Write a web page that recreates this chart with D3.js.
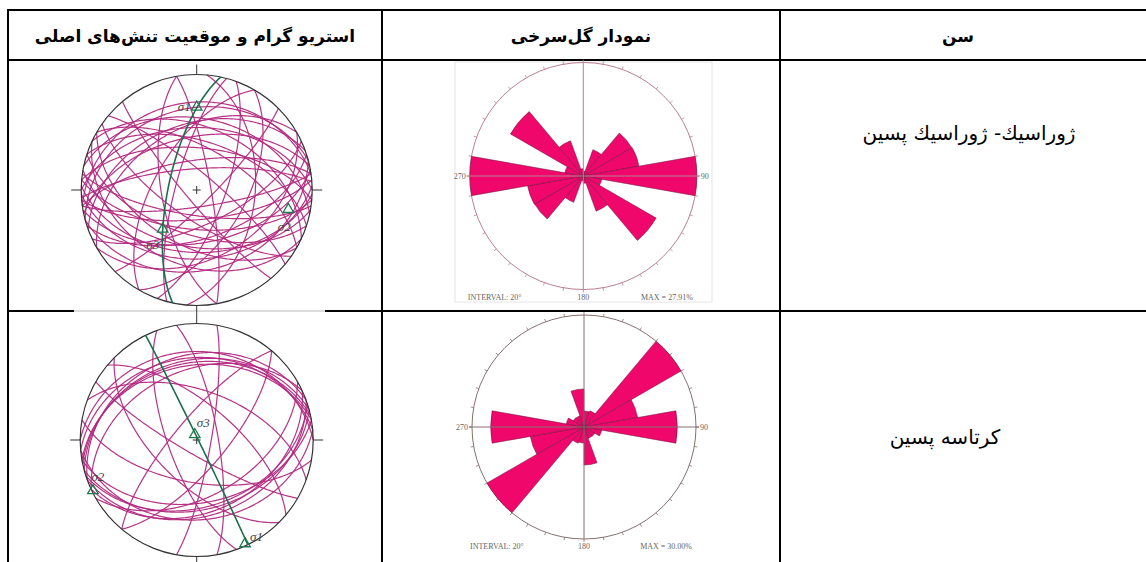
<!DOCTYPE html>
<html><head><meta charset="utf-8">
<script src="https://cdn.jsdelivr.net/npm/d3@7/dist/d3.min.js"></script>
<style>body{margin:0;background:#fff}svg{display:block}</style>
</head><body>
<svg id="c" width="1146" height="562"></svg>
<script>
// ---------------- data ----------------
const headers = ["استریو گرام و موقعیت تنش‌های اصلی", "نمودار گل‌سرخی", "سن"];
const ages = ["ژوراسيك- ژوراسيك پسين", "کرتاسه پسین"];

const roseBinStarts = [0, 20, 40, 60, 80, 100, 120, 140, 160];   // degrees, interval 20
const rose1Pct = [1.2, 6.9, 13.8, 13.9, 27.91, 4.6, 20.7, 9.2, 1.8];
const rose2Pct = [4.3, 4.6, 30.0, 14.6, 25.0, 4.8, 3.3, 3.2, 10.2];
const roseCompass = ["270", "90", "180"];
const roseInterval = "INTERVAL: 20°";
const roseMaxLabels = ["MAX = 27.91%", "MAX = 30.00%"];

// great circles (right-hand-rule strike, dip)
const stereo1Strikes = [82, 85, 95, 72, 100, 88, 75, 108, 92, 65, 115, 80, 98,
  262, 275, 258, 270, 282, 255, 288, 266, 250, 262,
  300, 310, 125, 120, 140, 295,
  20, 195, 30, 210, 45, 60, 240,
  350, 170, 5];
const stereo1Dips = [78, 69, 62, 55, 49, 40, 31, 58, 45, 65, 35, 52, 72,
  69, 60, 52, 45, 38, 30, 55, 75, 42, 25,
  60, 78, 70, 50, 82, 45,
  70, 75, 55, 60, 80, 40, 45,
  80, 65, 48];
const stereo2Strikes = [255, 250, 260, 265, 245, 270, 258,
  75, 70, 80, 65, 85, 60, 72,
  350, 10, 160, 135, 310, 40, 220, 100, 290, 120];
const stereo2Dips = [32, 28, 36, 30, 40, 25, 34,
  40, 35, 45, 38, 32, 50, 42,
  75, 80, 70, 60, 65, 70, 75, 60, 55, 80];

const sigmaNames = ["σ1", "σ2", "σ3"];
const stereo1SigmaTrend = [0, 102, 221], stereo1SigmaPlunge = [29, 20, 53];
const stereo2SigmaTrend = [155, 244, 341], stereo2SigmaPlunge = [2, 1, 86];

// ---------------- drawing ----------------
const svg = d3.select("#c");
const rad = d => d * Math.PI / 180;
const persianFont = "'DejaVu Sans', sans-serif";
const smallSerif = "'Liberation Serif', 'DejaVu Serif', serif";

// table
const T = svg.append("g").attr("stroke", "#000").attr("stroke-width", 2);
[[8, 10, 1146, 10], [8, 60, 1146, 60], [8, 311, 74, 311], [325, 311, 1146, 311],
 [8, 9, 8, 562], [382, 9, 382, 562], [780, 9, 780, 562]]
  .forEach(l => T.append("line").attr("x1", l[0]).attr("y1", l[1]).attr("x2", l[2]).attr("y2", l[3]));
svg.append("line").attr("x1", 74).attr("x2", 325).attr("y1", 311).attr("y2", 311).attr("stroke", "#bbb").attr("stroke-width", 1);

const headerX = [195, 581, 958];
headers.forEach((h, i) => svg.append("text").attr("x", headerX[i]).attr("y", 42)
  .attr("text-anchor", "middle").attr("direction", "rtl").attr("font-family", persianFont)
  .attr("font-size", 17).attr("font-weight", "bold").text(h));
const ageX = [969, 945], ageY = [140, 444];
ages.forEach((a, i) => svg.append("text").attr("x", ageX[i]).attr("y", ageY[i])
  .attr("text-anchor", "middle").attr("direction", "rtl").attr("font-family", persianFont)
  .attr("font-size", 20).text(a));

// ---- rose diagrams ----
function rose(cx, cy, R, pct, maxLabel, circleColor) {
  const g = svg.append("g").attr("transform", `translate(${cx},${cy})`);
  const r = d3.scaleLinear().domain([0, d3.max(pct)]).range([0, R]);
  g.append("circle").attr("r", R).attr("fill", "none").attr("stroke", circleColor).attr("stroke-width", 1);
  const ticks = d3.range(0, 360, 10);
  g.selectAll("line.tk").data(ticks).join("line").attr("class", "tk")
    .attr("x1", d => R * Math.sin(rad(d))).attr("y1", d => -R * Math.cos(rad(d)))
    .attr("x2", d => (R + 3) * Math.sin(rad(d))).attr("y2", d => -(R + 3) * Math.cos(rad(d)))
    .attr("stroke", circleColor).attr("stroke-width", 0.8);
  const petals = [];
  roseBinStarts.forEach((b, i) => { petals.push({ a: b, v: pct[i] }); petals.push({ a: b + 180, v: pct[i] }); });
  const arc = d3.arc().innerRadius(0);
  g.selectAll("path.p").data(petals).join("path").attr("class", "p")
    .attr("d", d => arc({ outerRadius: r(d.v), startAngle: rad(d.a), endAngle: rad(d.a + 20) }))
    .attr("fill", "#f0076c").attr("stroke", "#6a1038").attr("stroke-width", 0.5);
  g.append("line").attr("x1", 0).attr("x2", 0).attr("y1", -R).attr("y2", R).attr("stroke", circleColor).attr("stroke-width", 1);
  g.append("line").attr("x1", -R - 3).attr("x2", R + 3).attr("y1", 0).attr("y2", 0).attr("stroke", circleColor).attr("stroke-width", 1);
  const tx = g.append("g").attr("font-family", smallSerif).attr("font-size", 8).attr("fill", "#666");
  tx.append("text").attr("x", -R - 4).attr("y", 3).attr("text-anchor", "end").text(roseCompass[0]);
  tx.append("text").attr("x", R + 4).attr("y", 3).text(roseCompass[1]);
  tx.append("text").attr("x", 0).attr("y", R + 10).attr("text-anchor", "middle").text(roseCompass[2]);
  tx.append("text").attr("x", -R - 2).attr("y", R + 10).text(roseInterval);
  tx.append("text").attr("x", R - 4).attr("y", R + 10).attr("text-anchor", "end").text(maxLabel);
}
svg.append("rect").attr("x", 455).attr("y", 62).attr("width", 257).attr("height", 240).attr("fill", "none").attr("stroke", "#e4e4e4");
rose(583.3, 176, 113.5, rose1Pct, roseMaxLabels[0], "#b88090");
rose(584, 427, 112, rose2Pct, roseMaxLabels[1], "#857070");

// ---- stereograms (lower hemisphere, equal-area) ----
function stereo(cx, cy, R, strikes, dips, sTrend, sPlunge, labelOff) {
  const g = svg.append("g").attr("transform", `translate(${cx},${cy})`);
  const rs = d3.scaleLinear().domain([0, 1]).range([0, R]);
  const eqArea = pl => Math.SQRT2 * Math.sin(rad(90 - pl) / 2);
  const line = d3.lineRadial().angle(d => rad(d.trend)).radius(d => rs(eqArea(d.plunge)));
  function greatCircle(strike, dip) {
    const s = [Math.sin(rad(strike)), Math.cos(rad(strike)), 0];
    const dd = rad(strike + 90);
    const dv = [Math.cos(rad(dip)) * Math.sin(dd), Math.cos(rad(dip)) * Math.cos(dd), Math.sin(rad(dip))];
    return d3.range(0, 180.5, 1).map(t => {
      const c = Math.cos(rad(t)), sn = Math.sin(rad(t));
      const v = [c * s[0] + sn * dv[0], c * s[1] + sn * dv[1], Math.max(0, c * s[2] + sn * dv[2])];
      return { trend: Math.atan2(v[0], v[1]) * 180 / Math.PI, plunge: Math.asin(Math.min(1, v[2])) * 180 / Math.PI };
    });
  }
  const planes = strikes.map((s, i) => greatCircle(s, dips[i]));
  g.selectAll("path.gc").data(planes).join("path").attr("class", "gc")
    .attr("d", line).attr("fill", "none").attr("stroke", "#b2297f").attr("stroke-width", 1.2).attr("stroke-opacity", 0.95);
  g.append("circle").attr("r", R).attr("fill", "none").attr("stroke", "#333").attr("stroke-width", 1.2);
  const tk = g.append("g").attr("stroke", "#333").attr("stroke-width", 1);
  tk.append("line").attr("x1", 0).attr("x2", 0).attr("y1", -R).attr("y2", -R - 10);
  tk.append("line").attr("x1", 0).attr("x2", 0).attr("y1", R).attr("y2", R + 8);
  tk.append("line").attr("x1", -R).attr("x2", -R - 10).attr("y1", 0).attr("y2", 0);
  tk.append("line").attr("x1", R).attr("x2", R + 10).attr("y1", 0).attr("y2", 0);
  tk.append("line").attr("x1", -4).attr("x2", 4).attr("y1", 0).attr("y2", 0);
  tk.append("line").attr("x1", 0).attr("x2", 0).attr("y1", -4).attr("y2", 4);
  const green = greatCircle(sTrend[1] + 90, 90 - sPlunge[1]);
  g.append("path").datum(green).attr("d", line).attr("fill", "none").attr("stroke", "#1b6e4c").attr("stroke-width", 1.6);
  const pts = sTrend.map((t, i) => {
    const rr = rs(eqArea(sPlunge[i]));
    return { x: rr * Math.sin(rad(t)), y: -rr * Math.cos(rad(t)), name: sigmaNames[i] };
  });
  const tri = d3.symbol(d3.symbolTriangle, 48);
  g.selectAll("path.tri").data(pts).join("path").attr("class", "tri")
    .attr("transform", d => `translate(${d.x},${d.y})`).attr("d", tri)
    .attr("fill", "none").attr("stroke", "#1b7a4e").attr("stroke-width", 1.3);
  g.selectAll("text.sg").data(pts).join("text").attr("class", "sg")
    .attr("x", (d, i) => d.x + labelOff[i][0]).attr("y", (d, i) => d.y + labelOff[i][1])
    .attr("text-anchor", (d, i) => labelOff[i][2])
    .attr("font-family", smallSerif).attr("font-style", "italic").attr("font-size", 13).attr("fill", "#444")
    .text(d => d.name);
}
stereo(196.7, 190, 115.5, stereo1Strikes, stereo1Dips, stereo1SigmaTrend, stereo1SigmaPlunge,
  [[-6, 4, "end"], [-4, 22, "middle"], [-10, 20, "middle"]]);
stereo(196.7, 440, 116.5, stereo2Strikes, stereo2Dips, stereo2SigmaTrend, stereo2SigmaPlunge,
  [[5, -3, "start"], [5, -10, "middle"], [2, -8, "start"]]);
</script>
</body></html>
